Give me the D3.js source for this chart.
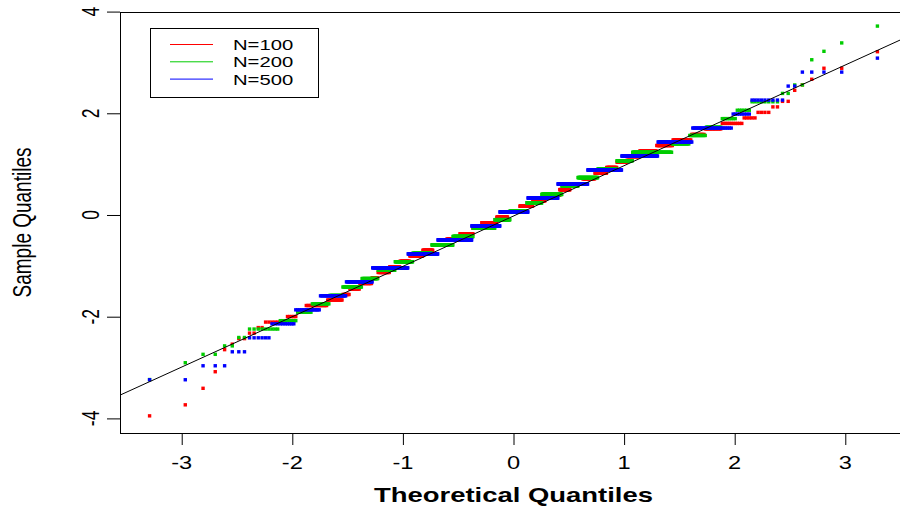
<!DOCTYPE html>
<html>
<head>
<meta charset="utf-8">
<script src="https://cdn.jsdelivr.net/npm/d3@7"></script>
<style>
	body { margin: 0; background: #fff; }
	text { font-family: "Liberation Sans", Arial, sans-serif; fill: #000; }
</style>
</head>
<body>
<div id="qq_plot"></div>
<script>
// each sample has 1000 values that fall on a few discrete levels,
// so a sample is stored as its sorted levels and how many values sit on each
var red_levels = [-3.95, -3.733, -3.408, -3.082, -2.648, -2.54, -2.431, -2.323, -2.214, -2.106, -1.997, -1.889, -1.78, -1.672, -1.563, -1.455, -1.346, -1.238, -1.129, -1.021, -0.912, -0.804, -0.695, -0.587, -0.478, -0.37, -0.261, -0.153, -0.044, 0.065, 0.173, 0.282, 0.39, 0.499, 0.607, 0.716, 0.824, 0.933, 1.041, 1.15, 1.258, 1.367, 1.475, 1.584, 1.692, 1.801, 1.909, 2.018, 2.126, 2.235, 2.452, 2.56, 2.669, 2.886, 3.211]
var red_counts = [1, 1, 1, 1, 1, 1, 2, 2, 2, 8, 5, 5, 16, 15, 8, 13, 18, 10, 21, 21, 22, 32, 27, 40, 41, 43, 30, 53, 39, 44, 46, 43, 50, 33, 39, 35, 31, 25, 22, 26, 29, 23, 21, 12, 12, 11, 5, 4, 2, 2, 1, 1, 1, 2, 1]

var green_levels = [-3.236, -2.905, -2.74, -2.574, -2.409, -2.243, -2.078, -1.912, -1.747, -1.581, -1.416, -1.25, -1.085, -0.919, -0.754, -0.588, -0.423, -0.257, -0.092, 0.074, 0.24, 0.405, 0.571, 0.736, 0.902, 1.067, 1.233, 1.398, 1.564, 1.729, 1.895, 2.06, 2.226, 2.391, 2.557, 3.053, 3.219, 3.384, 3.715]
var green_counts = [1, 1, 2, 2, 2, 9, 8, 9, 14, 13, 24, 25, 32, 39, 49, 62, 65, 76, 54, 61, 53, 68, 51, 57, 48, 34, 65, 20, 15, 11, 8, 6, 8, 2, 2, 1, 1, 1, 1]

var blue_levels = [-3.24, -2.965, -2.69, -2.415, -2.14, -1.865, -1.59, -1.315, -1.04, -0.765, -0.49, -0.215, 0.06, 0.335, 0.61, 0.885, 1.16, 1.435, 1.71, 1.985, 2.26, 2.535, 2.81, 3.085]
var blue_counts = [2, 3, 3, 6, 10, 16, 25, 36, 69, 77, 106, 98, 101, 104, 93, 87, 68, 43, 29, 8, 9, 2, 4, 1]

// reference line (qqline)
var line_intercept = -0.02
var line_slope = 0.99

var x_ticks = [-3, -2, -1, 0, 1, 2, 3]
var y_ticks = [-4, -2, 0, 2, 4]
var legend_labels = ["N=100", "N=200", "N=500"]
var series_colours = ["#ff0000", "#00cc00", "#0000ff"]

// the picture is stretched sideways, text follows that
var stretch = 1.35

function qnorm(p){
	// Acklam's approximation of the normal quantile function
	var a = [-3.969683028665376e+01, 2.209460984245205e+02, -2.759285104469687e+02, 1.383577518672690e+02, -3.066479806614716e+01, 2.506628277459239e+00];
	var b = [-5.447609879822406e+01, 1.615858368580409e+02, -1.556989798598866e+02, 6.680131188771972e+01, -1.328068155288572e+01];
	var c = [-7.784894002430293e-03, -3.223964580411365e-01, -2.400758277161838e+00, -2.549732539343734e+00, 4.374664141464968e+00, 2.938163982698783e+00];
	var d = [7.784695709041462e-03, 3.224671290700398e-01, 2.445134137142996e+00, 3.754408661907416e+00];
	var plow = 0.02425, q, r;
	if (p < plow){
		q = Math.sqrt(-2 * Math.log(p));
		return (((((c[0]*q+c[1])*q+c[2])*q+c[3])*q+c[4])*q+c[5]) / ((((d[0]*q+d[1])*q+d[2])*q+d[3])*q+1);
	}
	if (p <= 1 - plow){
		q = p - 0.5;
		r = q * q;
		return (((((a[0]*r+a[1])*r+a[2])*r+a[3])*r+a[4])*r+a[5])*q / (((((b[0]*r+b[1])*r+b[2])*r+b[3])*r+b[4])*r+1);
	}
	q = Math.sqrt(-2 * Math.log(1 - p));
	return -(((((c[0]*q+c[1])*q+c[2])*q+c[3])*q+c[4])*q+c[5]) / ((((d[0]*q+d[1])*q+d[2])*q+d[3])*q+1);
}

function expandSample(levels, counts){
	var values = [];
	levels.forEach(function(v, j){
		for (var k = 0; k < counts[j]; k++) values.push(v);
	});
	return values;
}

var plot_left = 120, plot_right = 907, plot_top = 12, plot_bottom = 433;

var x = d3.scaleLinear().domain([-3.558, 3.558]).range([plot_left, plot_right]);
var y = d3.scaleLinear().domain([-4.287, 3.992]).range([plot_bottom, plot_top]);

var svg = d3.select("#qq_plot")
	.append("svg")
	.attr("width", 900)
	.attr("height", 506);

svg.append("clipPath")
	.attr("id", "plot_clip")
	.append("rect")
	.attr("x", plot_left)
	.attr("y", plot_top)
	.attr("width", plot_right - plot_left)
	.attr("height", plot_bottom - plot_top);

var plot = svg.append("g").attr("clip-path", "url(#plot_clip)");

var samples = [
	expandSample(red_levels, red_counts),
	expandSample(green_levels, green_counts),
	expandSample(blue_levels, blue_counts)
];

var dot = 3.4;
samples.forEach(function(values, si){
	var n = values.length;
	plot.append("g")
		.selectAll("rect")
		.data(values)
		.enter().append("rect")
		.attr("x", function(d, i){ return x(qnorm((i + 0.5) / n)) - dot / 2; })
		.attr("y", function(d){ return y(d) - dot / 2; })
		.attr("width", dot)
		.attr("height", dot)
		.attr("fill", series_colours[si]);
});

// qqline
var x_domain = x.domain();
plot.append("line")
	.attr("x1", x(x_domain[0]))
	.attr("y1", y(line_intercept + line_slope * x_domain[0]))
	.attr("x2", x(x_domain[1]))
	.attr("y2", y(line_intercept + line_slope * x_domain[1]))
	.attr("stroke", "#000")
	.attr("stroke-width", 1);

// axes: tick marks from d3, labels drawn separately so they can be stretched
var x_axis = svg.append("g")
	.attr("transform", "translate(0," + plot_bottom + ")")
	.call(d3.axisBottom(x).tickValues(x_ticks).tickSize(12).tickFormat(""));
x_axis.select(".domain").remove();

var y_axis = svg.append("g")
	.attr("transform", "translate(" + plot_left + ",0)")
	.call(d3.axisLeft(y).tickValues(y_ticks).tickSize(13).tickFormat(""));
y_axis.select(".domain").remove();

svg.append("rect")
	.attr("x", plot_left + 0.5)
	.attr("y", plot_top + 0.5)
	.attr("width", plot_right - plot_left)
	.attr("height", plot_bottom - plot_top)
	.attr("fill", "none")
	.attr("stroke", "#000");

svg.selectAll("text.xtick")
	.data(x_ticks)
	.enter().append("text")
	.attr("class", "xtick")
	.attr("transform", function(d){ return "translate(" + x(d) + ",469) scale(" + stretch + ",1)"; })
	.attr("text-anchor", "middle")
	.style("font-size", "17.5px")
	.text(function(d){ return d; });

svg.selectAll("text.ytick")
	.data(y_ticks)
	.enter().append("text")
	.attr("class", "ytick")
	.attr("transform", function(d){ return "translate(99," + y(d) + ") scale(" + stretch + ",1) rotate(-90)"; })
	.attr("text-anchor", "middle")
	.style("font-size", "17.5px")
	.text(function(d){ return d; });

svg.append("text")
	.attr("transform", "translate(" + (plot_left + plot_right) / 2 + ",502)")
	.attr("text-anchor", "middle")
	.attr("textLength", 279)
	.attr("lengthAdjust", "spacingAndGlyphs")
	.style("font-size", "21px")
	.style("font-weight", "bold")
	.text("Theoretical Quantiles");

svg.append("text")
	.attr("transform", "translate(31," + (plot_top + plot_bottom) / 2 + ") scale(" + stretch + ",1) rotate(-90)")
	.attr("text-anchor", "middle")
	.style("font-size", "19px")
	.text("Sample Quantiles");

// legend
var legend = svg.append("g").attr("transform", "translate(150,28)");
legend.append("rect")
	.attr("x", 0.5)
	.attr("y", 0.5)
	.attr("width", 168)
	.attr("height", 69)
	.attr("fill", "#fff")
	.attr("stroke", "#000");

legend_labels.forEach(function(label, i){
	var ly = 16.5 + i * 17.3;
	legend.append("line")
		.attr("x1", 20)
		.attr("x2", 63)
		.attr("y1", ly)
		.attr("y2", ly)
		.attr("stroke", series_colours[i])
		.attr("stroke-width", 1);
	legend.append("text")
		.attr("transform", "translate(83," + (ly + 5.5) + ") scale(" + stretch + ",1)")
		.style("font-size", "15px")
		.text(label);
});
</script>
</body>
</html>
